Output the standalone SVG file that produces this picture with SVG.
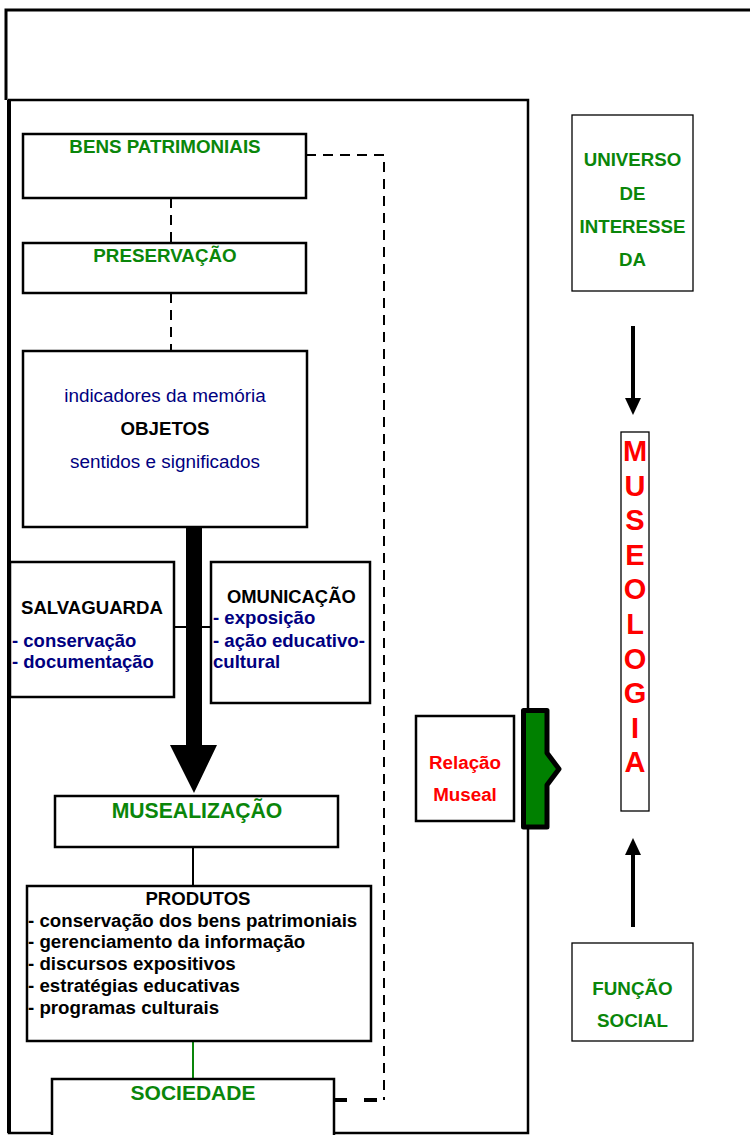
<svg xmlns="http://www.w3.org/2000/svg" width="750" height="1135" viewBox="0 0 750 1135">
<style>
  .box{fill:#fff;stroke:#000;stroke-width:2.5}
  .tbox{fill:#fff;stroke:#000;stroke-width:1.3}
  .t{font-family:"Liberation Sans",Arial,sans-serif;font-weight:bold}
  .n{font-family:"Liberation Sans",Arial,sans-serif}
  .g{fill:#0a860a}
  .b{fill:#000080}
  .k{fill:#000}
  .r{fill:#ff0000}
  .c{text-anchor:middle}
  .dash{fill:none;stroke:#000;stroke-width:2;stroke-dasharray:10,7}
</style>
<rect width="750" height="1135" fill="#fff"/>
<g id="frames">
  <path d="M750,10 H6 V100" fill="none" stroke="#000" stroke-width="3"/>
  <rect x="9" y="100" width="519" height="1033" fill="none" stroke="#000" stroke-width="2.5"/>
  <line x1="9" y1="100" x2="9" y2="1133" stroke="#000" stroke-width="4"/>
</g>
<g id="connectors">
  <line x1="171" y1="198" x2="171" y2="243" class="dash"/>
  <line x1="171" y1="293" x2="171" y2="351" class="dash"/>
  <path d="M306,155 H384 V1100" class="dash"/>
  <path d="M334,1100 H385" fill="none" stroke="#000" stroke-width="4" stroke-dasharray="13,17"/>
  <line x1="172" y1="627" x2="211" y2="627" stroke="#000" stroke-width="2"/>
  <path d="M186,527 H202 V745 H217 L194,793 L170,745 H186 Z" fill="#000"/>
  <line x1="193" y1="847" x2="193" y2="886" stroke="#000" stroke-width="2"/>
  <line x1="193" y1="1041" x2="193" y2="1079" stroke="#0a860a" stroke-width="2"/>
  <line x1="633" y1="326" x2="633" y2="400" stroke="#000" stroke-width="4"/>
  <path d="M625,398 H641 L633,415 Z" fill="#000"/>
  <line x1="633" y1="927" x2="633" y2="853" stroke="#000" stroke-width="4"/>
  <path d="M625,855 H641 L633,838 Z" fill="#000"/>
</g>
<g id="bens">
  <rect x="23" y="134" width="283" height="64" class="box"/>
  <text x="165" y="153" class="t g c" font-size="18.8">BENS PATRIMONIAIS</text>
</g>
<g id="preservacao">
  <rect x="23" y="243" width="283" height="50" class="box"/>
  <text x="165" y="262" class="t g c" font-size="18.8">PRESERVAÇÃO</text>
</g>
<g id="objetos">
  <rect x="23" y="351" width="284" height="176" class="box"/>
  <text x="165" y="402" class="n b c" font-size="18.9">indicadores da memória</text>
  <text x="165" y="435" class="t k c" font-size="18.7">OBJETOS</text>
  <text x="165" y="468" class="n b c" font-size="18.9">sentidos e significados</text>
</g>
<g id="salvaguarda">
  <rect x="10" y="562" width="164" height="135" class="box"/>
  <text x="21" y="614" class="t k" font-size="18.6">SALVAGUARDA</text>
  <text x="12" y="647" class="t b" font-size="18.5">- conservação</text>
  <text x="12" y="668" class="t b" font-size="18.5">- documentação</text>
</g>
<g id="comunicacao">
  <rect x="211" y="562" width="159" height="141" class="box"/>
  <text x="227" y="603" class="t k" font-size="18.4">OMUNICAÇÃO</text>
  <text x="213" y="624" class="t b" font-size="18.6">- exposição</text>
  <text x="213" y="647" class="t b" font-size="18.6">- ação educativo-</text>
  <text x="213" y="668" class="t b" font-size="18.6">cultural</text>
</g>
<g id="musealizacao">
  <rect x="55" y="796" width="283" height="51" class="box"/>
  <text x="197" y="818" class="t g c" font-size="21.2">MUSEALIZAÇÃO</text>
</g>
<g id="produtos">
  <rect x="27" y="886" width="344" height="155" class="box"/>
  <text x="198" y="905" class="t k c" font-size="18.6">PRODUTOS</text>
  <text x="28" y="927" class="t k" font-size="18.7">- conservação dos bens patrimoniais</text>
  <text x="28" y="948" class="t k" font-size="18.7">- gerenciamento da informação</text>
  <text x="28" y="970" class="t k" font-size="18.7">- discursos expositivos</text>
  <text x="28" y="992" class="t k" font-size="18.7">- estratégias educativas</text>
  <text x="28" y="1014" class="t k" font-size="18.7">- programas culturais</text>
</g>
<g id="sociedade">
  <rect x="52" y="1079" width="282" height="60" class="box"/>
  <text x="193" y="1100" class="t g c" font-size="21">SOCIEDADE</text>
</g>
<g id="universo">
  <rect x="572" y="115" width="121" height="176" class="tbox"/>
  <text x="632.5" y="166" class="t g c" font-size="18.7">UNIVERSO</text>
  <text x="632.5" y="200" class="t g c" font-size="18.7">DE</text>
  <text x="632.5" y="233" class="t g c" font-size="18.7">INTERESSE</text>
  <text x="632.5" y="266" class="t g c" font-size="18.7">DA</text>
</g>
<g id="museologia">
  <rect x="621" y="432" width="28" height="379" class="tbox"/>
  <g class="t r c" font-size="29">
    <text x="635" y="461">M</text>
    <text x="635" y="495.6">U</text>
    <text x="635" y="530.2">S</text>
    <text x="635" y="564.8">E</text>
    <text x="635" y="599.4">O</text>
    <text x="635" y="634">L</text>
    <text x="635" y="668.6">O</text>
    <text x="635" y="703.2">G</text>
    <text x="635" y="737.8">I</text>
    <text x="635" y="772.4">A</text>
  </g>
</g>
<g id="funcao">
  <rect x="572" y="943" width="121" height="98" class="tbox"/>
  <text x="632.5" y="995" class="t g c" font-size="18.8">FUNÇÃO</text>
  <text x="632.5" y="1027" class="t g c" font-size="18.8">SOCIAL</text>
</g>
<g id="relacao">
  <rect x="416" y="716" width="98" height="105" class="box" stroke-width="2"/>
  <text x="465" y="769" class="t r c" font-size="18.8">Relação</text>
  <text x="465" y="801" class="t r c" font-size="18.8">Museal</text>
</g>
<g id="conector">
  <path d="M523.5,710.5 H547 V753 L559,769 L547,785 V827 H523.5 Z" fill="#008000" stroke="#000" stroke-width="5" stroke-linejoin="round"/>
</g>
</svg>
